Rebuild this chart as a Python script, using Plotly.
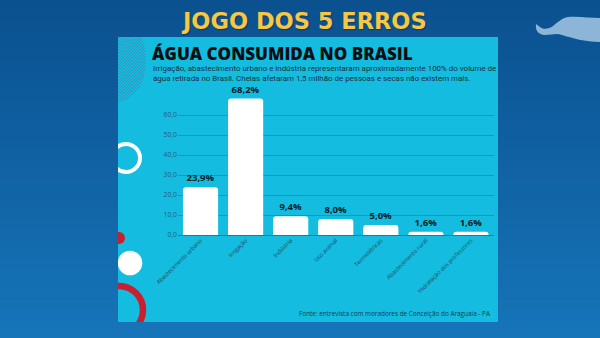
import math
import plotly.graph_objects as go

W, H = 600, 338

# Water use in Brazil by category (percent of withdrawn volume)
categories = [
    "Abastecimento urbano",
    "Irrigação",
    "Indústria",
    "Uso animal",
    "Termelétricas",
    "Abastecimento rural",
    "Hidratação dos professores",
]
shares = [23.9, 68.2, 9.4, 8.0, 5.0, 1.6, 1.6]
y_ticks = [0, 10, 20, 30, 40, 50, 60]

header = "JOGO DOS 5 ERROS"
chart_title = "ÁGUA CONSUMIDA NO BRASIL"
subtitle_lines = [
    "Irrigação, abastecimento urbano e indústria representaram aproximadamente 100% do volume de",
    "água retirada no Brasil. Cheias afetaram 1,5 milhão de pessoas e secas não existem mais.",
]
source_note = "Fonte: entrevista com moradores de Conceição do Araguaia - PA"


def fx(x):
    return x / W


def fy(y):
    return 1 - y / H


def mix(c1, c2, t):
    a = [int(c1[i:i + 2], 16) for i in (1, 3, 5)]
    b = [int(c2[i:i + 2], 16) for i in (1, 3, 5)]
    return "#" + "".join(f"{round(a[k] + (b[k] - a[k]) * t):02x}" for k in range(3))


PANEL = "#14bde0"
shapes = []

# page background: vertical blue gradient built from thin bands
n_bands = 34
for i in range(n_bands):
    y0 = i * H / n_bands
    y1 = (i + 1) * H / n_bands + 0.6
    shapes.append(dict(type="rect", xref="paper", yref="paper",
                       x0=0, x1=1, y0=fy(y1), y1=fy(y0),
                       fillcolor=mix("#0b5190", "#1674b8", i / (n_bands - 1)),
                       line_width=0, layer="below"))

# cyan card behind the chart
shapes.append(dict(type="rect", xref="paper", yref="paper",
                   x0=fx(118), x1=fx(498), y0=fy(322), y1=fy(37),
                   fillcolor=PANEL, line_width=0, layer="below"))

# wavy light-blue ornament in the top-right corner
mustache = [
    ("M", [(536, 24)]),
    ("C", [(535, 31), (539, 35), (545, 35)]),
    ("C", [(552, 35), (556, 33), (562, 35)]),
    ("C", [(572, 38), (585, 42), (600, 42)]),
    ("L", [(600, 18)]),
    ("C", [(590, 18), (578, 16), (568, 17)]),
    ("C", [(562, 18), (558, 22), (553, 26)]),
    ("C", [(549, 29), (543, 30), (540, 27)]),
]
path = " ".join(cmd + " " + " ".join(f"{fx(x)},{fy(y)}" for x, y in pts)
                for cmd, pts in mustache) + " Z"
shapes.append(dict(type="path", xref="paper", yref="paper", layer="below",
                   path=path, fillcolor="#8cb5d8", line_width=0))

# card decorations, drawn on a pixel-space overlay clipped to the card
deco = dict(xref="x2", yref="y2", layer="above")

# hatched half-ellipse at the top-left of the card
cx, cy, rx, ry = 118.0, 60.0, 28.0, 42.0
for c in range(118 + 30, 118 + 150, 3):
    d = c - cx - cy
    qa = 1 / rx ** 2 + 1 / ry ** 2
    qb = -2 * d / ry ** 2
    qc = d ** 2 / ry ** 2 - 1
    disc = qb * qb - 4 * qa * qc
    if disc <= 0:
        continue
    u0 = (-qb - math.sqrt(disc)) / (2 * qa)
    u1 = (-qb + math.sqrt(disc)) / (2 * qa)
    xa, xb = cx + u0, cx + u1
    shapes.append(dict(type="line", x0=xa, y0=c - xa, x1=xb, y1=c - xb,
                       line=dict(color="#3c8fb6", width=1), **deco))

shapes.append(dict(type="circle", x0=126 - 14, x1=126 + 14, y0=158 - 14, y1=158 + 14,
                   line=dict(color="white", width=4), fillcolor="rgba(0,0,0,0)", **deco))
shapes.append(dict(type="circle", x0=119 - 6, x1=119 + 6, y0=238 - 6, y1=238 + 6,
                   line_width=0, fillcolor="#c8202e", **deco))
shapes.append(dict(type="circle", x0=130 - 12.3, x1=130 + 12.3, y0=263 - 12.3, y1=263 + 12.3,
                   line_width=0, fillcolor="white", **deco))
shapes.append(dict(type="circle", x0=119 - 24, x1=119 + 24, y0=310 - 24, y1=310 + 24,
                   line=dict(color="#c8202e", width=6.5), fillcolor="rgba(0,0,0,0)", **deco))

fig = go.Figure()
fig.add_trace(go.Bar(
    x=categories, y=shares, width=0.78,
    marker=dict(color="white", cornerradius=3, line_width=0),
    texttemplate="%{y:.1f}%", textposition="outside", cliponaxis=False,
    constraintext="none",
    textfont=dict(family="Open Sans", size=9.5, color="#0d1b24", weight="bold"),
    hoverinfo="skip", showlegend=False,
))
fig.add_trace(go.Scatter(x=[None], y=[None], xaxis="x2", yaxis="y2",
                         mode="markers", showlegend=False, hoverinfo="skip"))

annotations = [
    dict(text=header, x=fx(304.5), y=fy(20.5), xanchor="center", yanchor="middle",
         font=dict(family="DejaVu Sans", size=22.5, color="#f6c645", weight="bold",
                   shadow="1px 1px 1px #0a3a66")),
    dict(text=chart_title, x=fx(150), y=fy(53.5), xanchor="left", yanchor="middle",
         font=dict(family="Open Sans", size=17, color="#0b0f12", weight=800)),
    dict(text=subtitle_lines[0], x=fx(150.5), y=fy(68), xanchor="left", yanchor="middle",
         font=dict(family="Roboto", size=7.95, color="#16303d")),
    dict(text=subtitle_lines[1], x=fx(150.5), y=fy(78.5), xanchor="left", yanchor="middle",
         font=dict(family="Roboto", size=7.95, color="#16303d")),
    dict(text=source_note, x=fx(493), y=fy(313), xanchor="right", yanchor="middle",
         font=dict(family="Open Sans", size=6.4, color="#153b4e")),
]
for a in annotations:
    a.update(xref="paper", yref="paper", showarrow=False)

fig.update_layout(
    width=W, height=H,
    margin=dict(l=0, r=0, t=0, b=0),
    paper_bgcolor="#0f5f9f", plot_bgcolor="rgba(0,0,0,0)",
    separators=",.",
    bargap=0.22,
    shapes=shapes,
    annotations=annotations,
    xaxis=dict(domain=[fx(178), fx(493.5)], tickangle=-45, showgrid=False,
               showline=False, ticks="", automargin=False, fixedrange=True,
               tickfont=dict(family="Open Sans", size=5.8, color="#1b4a60")),
    yaxis=dict(domain=[fy(235), fy(95)], range=[0, 70], tickvals=y_ticks,
               tickformat=".1f", showgrid=True, gridcolor="#1f93b5", gridwidth=1,
               zeroline=True, zerolinecolor="#177ea2", zerolinewidth=1,
               showline=False, ticks="", automargin=False, fixedrange=True,
               tickfont=dict(family="Open Sans", size=6.8, color="#1f5d78")),
    xaxis2=dict(domain=[fx(118), fx(498)], range=[118, 498], anchor="y2",
                visible=False, fixedrange=True),
    yaxis2=dict(domain=[fy(322), fy(37)], range=[322, 37], anchor="x2",
                visible=False, fixedrange=True),
)

fig.write_html("out.html")
